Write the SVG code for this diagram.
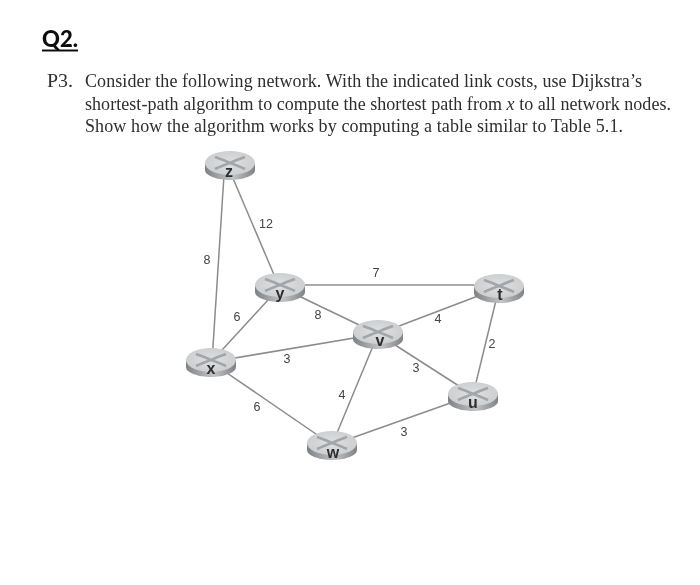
<svg xmlns="http://www.w3.org/2000/svg" width="700" height="585" viewBox="0 0 700 585">
<style>
.link{stroke:#8c8c8c;stroke-width:1.5;fill:none}
.cost{font:12.500px "Liberation Sans",Arial,sans-serif;fill:#444;text-anchor:middle}
.name{font:bold 16px "Liberation Sans",Arial,sans-serif;fill:#2e2e2e;text-anchor:middle}
.body{font:18px "Liberation Serif","Times New Roman",serif;fill:#2e2e2e}
</style>
<defs>
<filter id="soft" x="-5%" y="-5%" width="110%" height="110%"><feGaussianBlur stdDeviation="0.45"/></filter>
<linearGradient id="side" x1="0" x2="1" y1="0" y2="0"><stop offset="0" stop-color="#7f8285"/><stop offset=".55" stop-color="#c2c4c6"/><stop offset="1" stop-color="#808386"/></linearGradient>
<radialGradient id="top" cx=".5" cy=".5" r=".6"><stop offset="0" stop-color="#dfe0e1"/><stop offset="1" stop-color="#c9cbcc"/></radialGradient>
<g id="router">
<path d="M-25-3V4C-25 10-12 14 0 14S25 10 25 4V-3Z" fill="url(#side)"/>
<ellipse cx="0" cy="-3" rx="25" ry="12" fill="url(#top)"/>
<path d="M-15-9Q-6-6 0-3Q6-6 15-9M-15 3Q-6-1 0-3Q6-1 15 3" fill="none" stroke="#a3a6a9" stroke-width="2.800"/>
</g>
</defs>
<rect width="700" height="585" fill="#fff"/>
<g filter="url(#soft)">
<text x="42" y="47" font-family="Lato, Liberation Sans, sans-serif" font-size="23" font-weight="900" fill="#111" textLength="36" lengthAdjust="spacingAndGlyphs">Q2.</text>
<line x1="42" y1="50.500" x2="78" y2="50.500" stroke="#111" stroke-width="1.800"/>
<g class="body">
<text x="47" y="87" textLength="26" lengthAdjust="spacingAndGlyphs">P3.</text>
<text x="85" y="87" textLength="557" lengthAdjust="spacing">Consider the following network. With the indicated link costs, use Dijkstra’s</text>
<text x="85" y="110" textLength="586" lengthAdjust="spacing">shortest-path algorithm to compute the shortest path from <tspan font-style="italic">x</tspan> to all network nodes.</text>
<text x="85" y="132" textLength="538" lengthAdjust="spacing">Show how the algorithm works by computing a table similar to Table 5.1.</text>
</g>
<g id="connectors">
<line class="link" x1="224" y1="175" x2="212" y2="362"/>
<line class="link" x1="232" y1="176" x2="275" y2="277"/>
<line class="link" x1="280" y1="285" x2="499" y2="285"/>
<line class="link" x1="280" y1="287" x2="211" y2="362"/>
<line class="link" x1="280" y1="287" x2="378" y2="334"/>
<line class="link" x1="211" y1="362" x2="378" y2="334"/>
<line class="link" x1="211" y1="362" x2="332" y2="445"/>
<line class="link" x1="378" y1="334" x2="499" y2="288"/>
<line class="link" x1="378" y1="334" x2="473" y2="395"/>
<line class="link" x1="378" y1="334" x2="332" y2="445"/>
<line class="link" x1="499" y1="288" x2="473" y2="395"/>
<line class="link" x1="473" y1="395" x2="332" y2="445"/>
</g>
<g id="link-costs">
<text class="cost" x="207" y="264">8</text>
<text class="cost" x="266" y="228">12</text>
<text class="cost" x="376" y="277">7</text>
<text class="cost" x="237" y="321">6</text>
<text class="cost" x="318" y="319">8</text>
<text class="cost" x="287" y="363">3</text>
<text class="cost" x="257" y="411">6</text>
<text class="cost" x="342" y="399">4</text>
<text class="cost" x="438" y="323">4</text>
<text class="cost" x="492" y="348">2</text>
<text class="cost" x="416" y="372">3</text>
<text class="cost" x="404" y="436">3</text>
</g>
<g id="node-z"><use href="#router" x="230" y="166"/><text class="name" x="229" y="177">z</text></g>
<g id="node-y"><use href="#router" x="280" y="288"/><text class="name" x="280" y="299">y</text></g>
<g id="node-t"><use href="#router" x="499" y="289"/><text class="name" x="500" y="300">t</text></g>
<g id="node-v"><use href="#router" x="378" y="335"/><text class="name" x="380" y="346">v</text></g>
<g id="node-u"><use href="#router" x="473" y="397"/><text class="name" x="473" y="408">u</text></g>
<g id="node-x"><use href="#router" x="211" y="363"/><text class="name" x="211" y="374">x</text></g>
<g id="node-w"><use href="#router" x="332" y="446"/><text class="name" x="333" y="458">w</text></g>
</g>
</svg>
